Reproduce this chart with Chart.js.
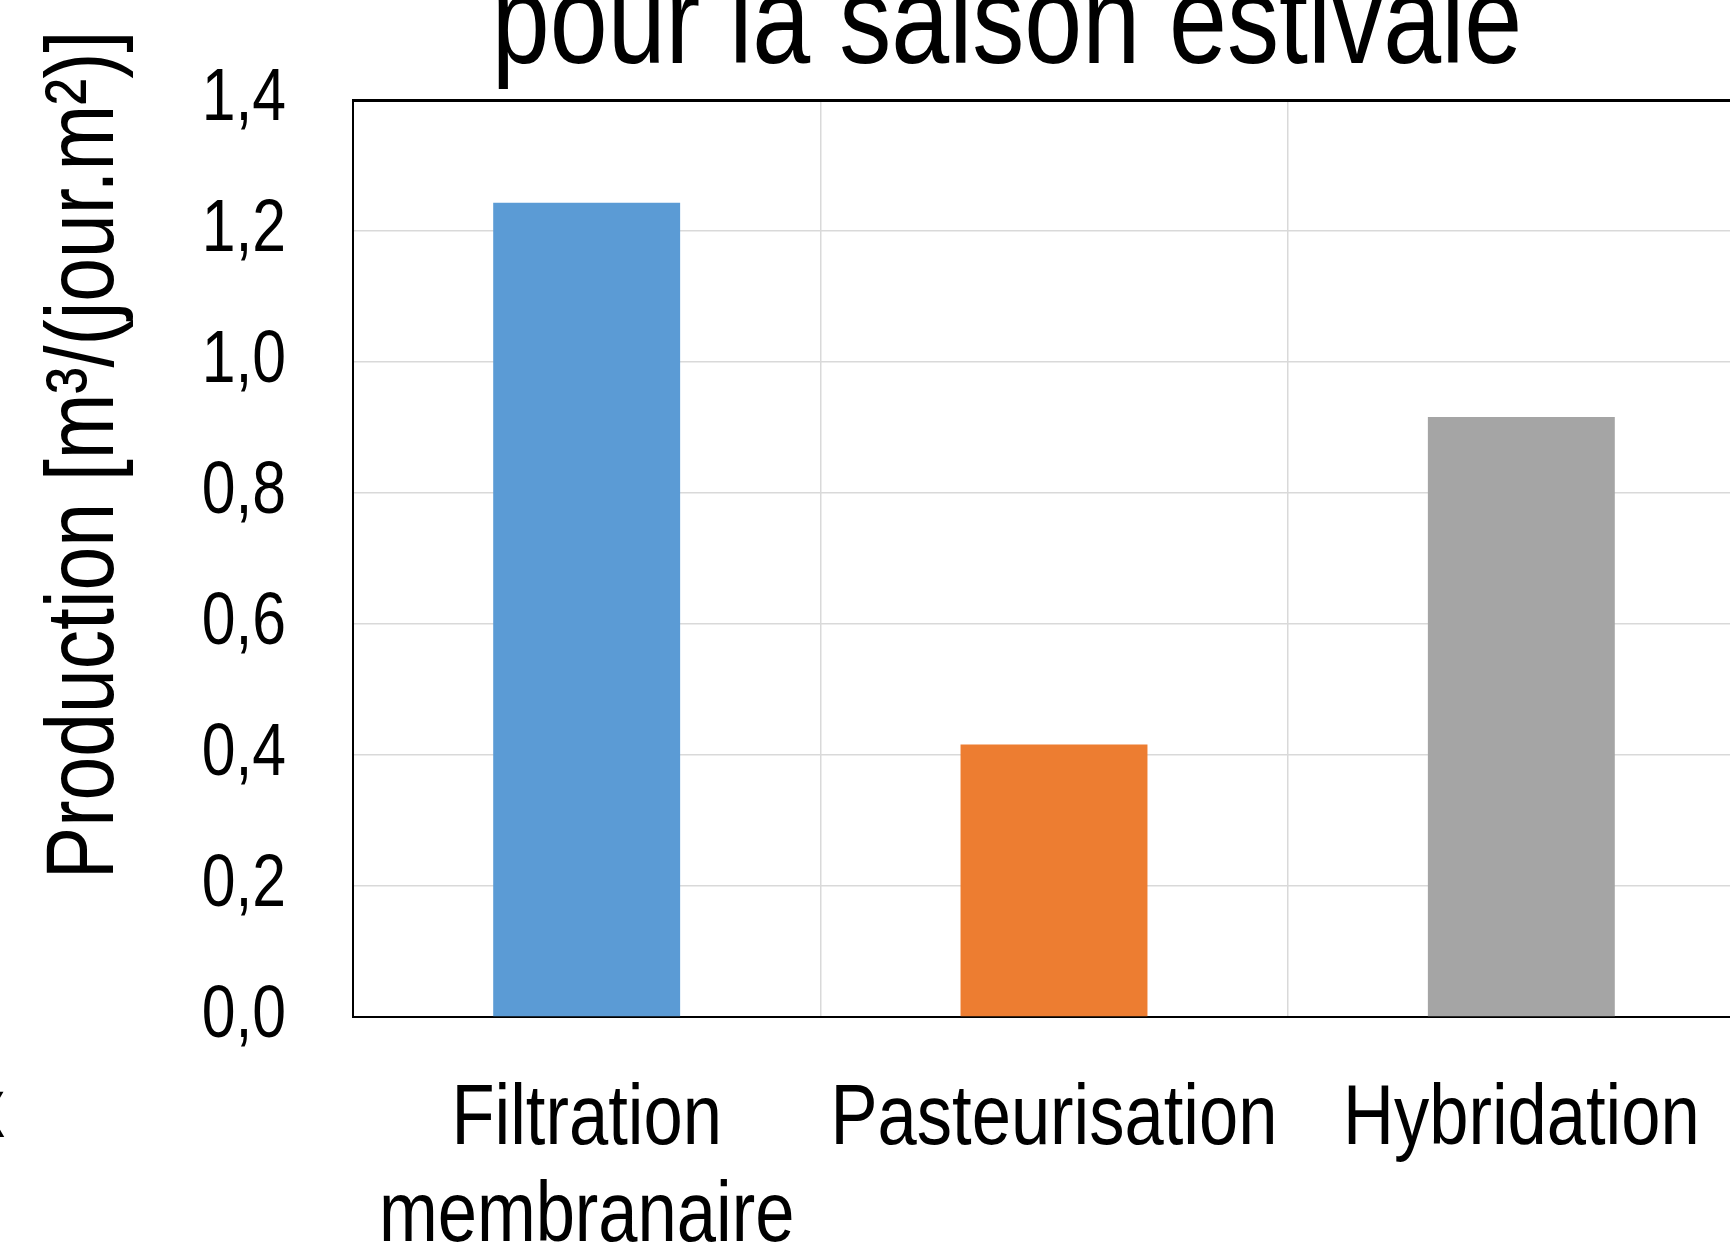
<!DOCTYPE html>
<html>
<head>
<meta charset="utf-8">
<script src="https://cdn.jsdelivr.net/npm/chart.js@4"></script>
<style>
  html, body { margin: 0; padding: 0; background: #fff; overflow: hidden; width: 1730px; height: 1252px; }
  #wrap { position: absolute; left: 0; top: -80px; }
</style>
</head>
<body>
<div id="wrap"><canvas id="prodChart" width="1755" height="1332"></canvas></div>
<script>
const categories = [['Filtration', 'membranaire'], 'Pasteurisation', 'Hybridation'];
const production = [1.243, 0.416, 0.916];
const barColors = ['#5B9BD5', '#ED7D31', '#A5A5A5'];
const titleText = 'pour la saison estivale';
const yTitle = 'Production [m³/(jour.m²)]';

const FONT = '"Liberation Sans", Arial, sans-serif';
const NARROW = 0.82; // no Arial Narrow here, so squeeze Liberation Sans horizontally

const canvas = document.getElementById('prodChart');
const ctx2d = canvas.getContext('2d');
const baseFill = ctx2d.fillText.bind(ctx2d);
const baseMeasure = ctx2d.measureText.bind(ctx2d);
ctx2d.fillText = function (text, x, y) {
  this.save();
  this.translate(x, y);
  this.scale(NARROW, 1);
  baseFill(text, 0, 0);
  this.restore();
};
ctx2d.measureText = function (text) {
  const m = baseMeasure(text);
  return {
    width: m.width * NARROW,
    actualBoundingBoxLeft: m.actualBoundingBoxLeft * NARROW,
    actualBoundingBoxRight: m.actualBoundingBoxRight * NARROW,
    actualBoundingBoxAscent: m.actualBoundingBoxAscent,
    actualBoundingBoxDescent: m.actualBoundingBoxDescent
  };
};

// title and y axis title drawn by hand so they can sit where the original has them
const textPlugin = {
  id: 'texts',
  afterDraw(chart) {
    const ctx = chart.ctx;
    ctx.save();
    ctx.fillStyle = '#000';
    ctx.textBaseline = 'alphabetic';

    ctx.font = '127px ' + FONT;
    ctx.textAlign = 'center';
    ctx.fillText(titleText, 1007, 143);

    ctx.save();
    ctx.font = '96px ' + FONT;
    ctx.translate(113, 535);
    ctx.rotate(-Math.PI / 2);
    ctx.fillText(yTitle, 0, 0);
    ctx.restore();

    ctx.font = '86px ' + FONT;
    ctx.textAlign = 'right';
    ctx.fillText('x', 5, 1217);
    ctx.restore();
  }
};

new Chart(canvas, {
  type: 'bar',
  data: {
    labels: categories,
    datasets: [{
      data: production,
      backgroundColor: barColors,
      borderWidth: 0,
      categoryPercentage: 1,
      barPercentage: 0.4
    }]
  },
  options: {
    responsive: false,
    animation: false,
    layout: { padding: { left: 0, right: 0, top: 180, bottom: 0 } },
    plugins: {
      legend: { display: false },
      tooltip: { enabled: false },
      title: { display: false }
    },
    scales: {
      x: {
        offset: true,
        afterFit(scale) { scale.height = 235; },
        grid: { color: '#D9D9D9', lineWidth: 1.5, drawTicks: false, offset: true },
        border: { color: '#000', width: 2 },
        ticks: {
          color: '#000',
          padding: 55,
          maxRotation: 0,
          autoSkip: false,
          font: { family: FONT, size: 86, lineHeight: 1.13 }
        }
      },
      y: {
        min: 0,
        max: 1.4,
        afterFit(scale) { scale.width = 353; },
        grid: {
          drawTicks: false,
          color: ctx => ctx.tick && ctx.tick.value === 1.4 ? '#000' : '#D9D9D9',
          lineWidth: ctx => ctx.tick && ctx.tick.value === 1.4 ? 3 : 1.5
        },
        border: { color: '#000', width: 2 },
        ticks: {
          stepSize: 0.2,
          color: '#000',
          padding: 67,
          font: { family: FONT, size: 74 },
          callback: v => v.toFixed(1).replace('.', ',')
        }
      }
    }
  },
  plugins: [textPlugin]
});
</script>
</body>
</html>
